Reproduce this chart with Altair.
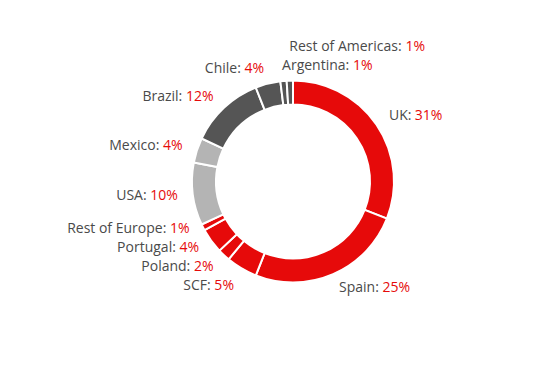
import math
import altair as alt
import pandas as pd

# ---- data ----
categories = ["UK", "Spain", "SCF", "Poland", "Portugal", "Rest of Europe",
              "USA", "Mexico", "Brazil", "Chile", "Argentina", "Rest of Americas"]
shares = [31, 25, 5, 2, 4, 1, 10, 4, 12, 4, 1, 1]
regions = ["Europe"] * 6 + ["North America"] * 2 + ["South America"] * 4

# ---- styles / layout ----
region_names = ["Europe", "North America", "South America"]
region_colors = ["#e60a0a", "#b4b4b4", "#555555"]
LABEL_GRAY = "#4a4a4a"
LABEL_RED = "#e60a0a"
FONT = "Open Sans"
FS = 14
W, H = 524, 368
CX, CY = 285, 173.5          # pie centre inside the plot area (px)
R_OUT, R_IN = 101, 77
R_LABEL = 116
GAP = 19

# Open Sans advance widths (units per 2048 em) for label layout
ADV = {" ": 532, ":": 545, "%": 1706, "A": 1296, "B": 1327, "C": 1292, "E": 1139,
       "F": 1057, "K": 1208, "M": 1780, "P": 1212, "R": 1266, "S": 1120, "U": 1479,
       "a": 1139, "c": 975, "d": 1255, "e": 1149, "f": 694, "g": 1122, "h": 1257,
       "i": 518, "l": 518, "m": 1905, "n": 1257, "o": 1237, "p": 1255, "r": 836,
       "s": 977, "t": 723, "u": 1257, "x": 1051, "z": 979}


def text_width(s):
    return sum(ADV.get(ch, 1171) for ch in s) * FS / 2048.0


total = float(sum(shares))
starts, ends = [], []
acc = 0.0
for v in shares:
    starts.append(acc / total * 100)
    acc += v
    ends.append(acc / total * 100)

arc_df = pd.DataFrame({"category": categories, "share": shares, "region": regions,
                       "start": starts, "end": ends})

# ---- label layout derived from the slice angles ----
labels = []
for cat, v, s, e in zip(categories, shares, starts, ends):
    theta = (s + e) / 2 / 100 * 2 * math.pi
    sx, cy = math.sin(theta), math.cos(theta)
    labels.append({"cat": cat, "pct": f"{v}%", "x": R_LABEL * sx,
                   "ydown": -R_LABEL * cy,
                   "align": "left" if sx > -0.15 else "right"})


def spread(group):
    group.sort(key=lambda d: d["ydown"])
    for _ in range(500):
        moved = False
        for a, b in zip(group, group[1:]):
            d = b["ydown"] - a["ydown"]
            if d < GAP - 1e-6:
                push = GAP - d
                near_pole = abs(a["x"]) < 0.5 * R_LABEL and abs(b["x"]) < 0.5 * R_LABEL
                if near_pole:
                    # labels next to the top/bottom of the ring move outward only
                    if a["ydown"] + b["ydown"] < 0:
                        a["ydown"] -= push
                    else:
                        b["ydown"] += push
                else:
                    a["ydown"] -= push / 2
                    b["ydown"] += push / 2
                moved = True
        if not moved:
            break


for side in ("left", "right"):
    spread([d for d in labels if d["align"] == side])

pieces = []
sp = text_width(" ")
for d in labels:
    y = -d["ydown"]
    name = d["cat"] + ":"
    if d["align"] == "left":
        pieces.append({"text": name, "kind": "name", "x": d["x"], "y": y, "align": "left"})
        pieces.append({"text": d["pct"], "kind": "pct", "x": d["x"] + text_width(name) + sp,
                       "y": y, "align": "left"})
    else:
        pieces.append({"text": d["pct"], "kind": "pct", "x": d["x"], "y": y, "align": "right"})
        pieces.append({"text": name, "kind": "name", "x": d["x"] - text_width(d["pct"]) - sp,
                       "y": y, "align": "right"})
text_df = pd.DataFrame(pieces)

xs = alt.Scale(domain=[-CX, W - CX], nice=False, zero=False)
ys = alt.Scale(domain=[-(H - CY), CY], nice=False, zero=False)
color_text = alt.Color("kind:N", scale=alt.Scale(domain=["name", "pct"],
                                                 range=[LABEL_GRAY, LABEL_RED]), legend=None)

arcs = alt.Chart(arc_df).mark_arc(innerRadius=R_IN, outerRadius=R_OUT,
                                  stroke="white", strokeWidth=2).encode(
    theta=alt.Theta("start:Q", scale=alt.Scale(domain=[0, 100], range=[0, 2 * math.pi])),
    theta2="end:Q",
    color=alt.Color("region:N", scale=alt.Scale(domain=region_names, range=region_colors),
                    legend=None),
    x=alt.value(CX),
    y=alt.value(CY),
    tooltip=["category:N", "share:Q"],
)


def text_layer(side):
    return alt.Chart(text_df).transform_filter(alt.datum.align == side).mark_text(
        align=side, baseline="middle", font=FONT, fontSize=FS).encode(
        x=alt.X("x:Q", scale=xs, axis=None),
        y=alt.Y("y:Q", scale=ys, axis=None),
        text="text:N",
        color=color_text,
    )


chart = alt.layer(arcs, text_layer("left"), text_layer("right")).resolve_scale(
    color="independent"
).properties(
    width=W, height=H, autosize=alt.AutoSizeParams(type="none"), padding=0
).configure_view(stroke=None)

chart.save("out.html", embed_options={"renderer": "svg", "actions": False})
